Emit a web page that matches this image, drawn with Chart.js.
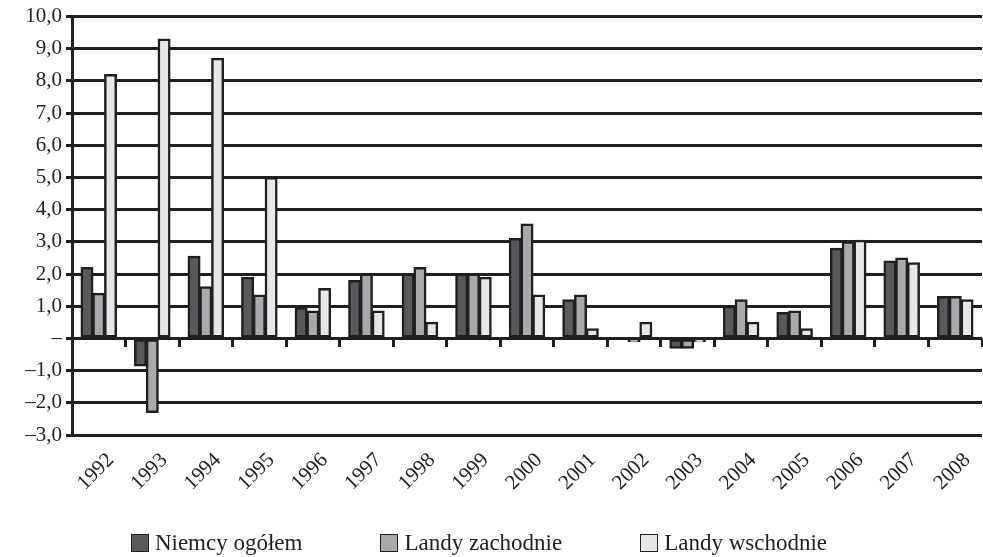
<!DOCTYPE html>
<html lang="pl">
<head>
<meta charset="utf-8">
<title>Niemcy – wykres</title>
<script src="https://cdn.jsdelivr.net/npm/chart.js@4.4.1/dist/chart.umd.min.js"></script>
<style>
    html, body { margin: 0; padding: 0; background: #fff; }
    #wrap { position: relative; width: 983px; height: 557px; overflow: hidden; }
    #legend {
        position: absolute; left: 0; top: 530px; width: 958px;
        display: flex; justify-content: center; gap: 78px;
        font-family: "Liberation Serif", "Times New Roman", serif;
        font-size: 23px; color: #231f20; line-height: 26px;
    }
    .item { display: flex; align-items: center; }
    .box { width: 16px; height: 16px; border: 1.5px solid #231f20; margin-right: 6px; }
</style>
</head>
<body>
<div id="wrap">
    <canvas id="chart" width="983" height="557"></canvas>
    <div id="legend"></div>
</div>
<script>
// Dane
const years = ['1992', '1993', '1994', '1995', '1996', '1997', '1998', '1999', '2000',
               '2001', '2002', '2003', '2004', '2005', '2006', '2007', '2008'];
const seriesNames = ['Niemcy ogółem', 'Landy zachodnie', 'Landy wschodnie'];
const niemcy    = [2.2, -0.85, 2.55, 1.9, 0.95, 1.8, 2.0, 2.0, 3.1, 1.2, 0.0, -0.3, 1.0, 0.8, 2.8, 2.4, 1.3];
const zachodnie = [1.4, -2.3, 1.6, 1.35, 0.85, 2.0, 2.2, 2.0, 3.55, 1.35, -0.1, -0.3, 1.2, 0.85, 3.0, 2.5, 1.3];
const wschodnie = [8.2, 9.3, 8.7, 5.0, 1.55, 0.85, 0.5, 1.9, 1.35, 0.3, 0.5, -0.1, 0.5, 0.3, 3.05, 2.35, 1.2];
const yTicks = [-3, -2, -1, 0, 1, 2, 3, 4, 5, 6, 7, 8, 9, 10];

const ink = '#231f20';
const colors = ['#58595b', '#a7a9ac', '#e6e7e8'];
const serif = '"Liberation Serif", "Times New Roman", serif';

function fmt(v) {
    if (v === 0) return '–';
    return v.toFixed(1).replace('.', ',').replace('-', '–');
}

const ctx = document.getElementById('chart').getContext('2d');

new Chart(ctx, {
    type: 'bar',
    data: {
        labels: years,
        datasets: [niemcy, zachodnie, wschodnie].map((d, i) => ({
            label: seriesNames[i],
            data: d,
            backgroundColor: colors[i],
            borderColor: ink,
            borderWidth: 2.5,
            borderSkipped: false,
            inflateAmount: 0.6,
            categoryPercentage: 0.66,
            barPercentage: 1
        }))
    },
    options: {
        responsive: false,
        animation: false,
        layout: { padding: { top: 14, right: 1, left: 0, bottom: 0 } },
        plugins: {
            legend: { display: false },
            tooltip: { enabled: false }
        },
        scales: {
            x: {
                grid: { display: false },
                border: { display: false },
                ticks: {
                    font: { family: serif, size: 21 },
                    color: ink,
                    minRotation: 45,
                    maxRotation: 45,
                    padding: 5,
                    labelOffset: 12
                },
                afterFit: s => { s.height = 122; }
            },
            // krótkie kreski na osi zerowej między latami
            zero: {
                type: 'category',
                axis: 'x',
                position: { y: 0 },
                offset: true,
                grid: { offset: true, drawOnChartArea: false, tickLength: 9, lineWidth: 3, color: ink },
                border: { display: false },
                ticks: { display: false }
            },
            y: {
                min: yTicks[0],
                max: yTicks[yTicks.length - 1],
                afterBuildTicks: s => { s.ticks = yTicks.map(v => ({ value: v })); },
                ticks: {
                    font: { family: serif, size: 21 },
                    color: ink,
                    padding: 4,
                    callback: v => fmt(v)
                },
                grid: { color: ink, lineWidth: 3, tickLength: 6 },
                border: { color: ink, width: 3 },
                afterFit: s => { s.width = 72; }
            }
        }
    }
});

// legenda w HTML
const legend = document.getElementById('legend');
seriesNames.forEach((name, i) => {
    const item = document.createElement('div');
    item.className = 'item';
    const box = document.createElement('span');
    box.className = 'box';
    box.style.background = colors[i];
    const txt = document.createElement('span');
    txt.textContent = name;
    item.appendChild(box);
    item.appendChild(txt);
    legend.appendChild(item);
});
</script>
</body>
</html>
